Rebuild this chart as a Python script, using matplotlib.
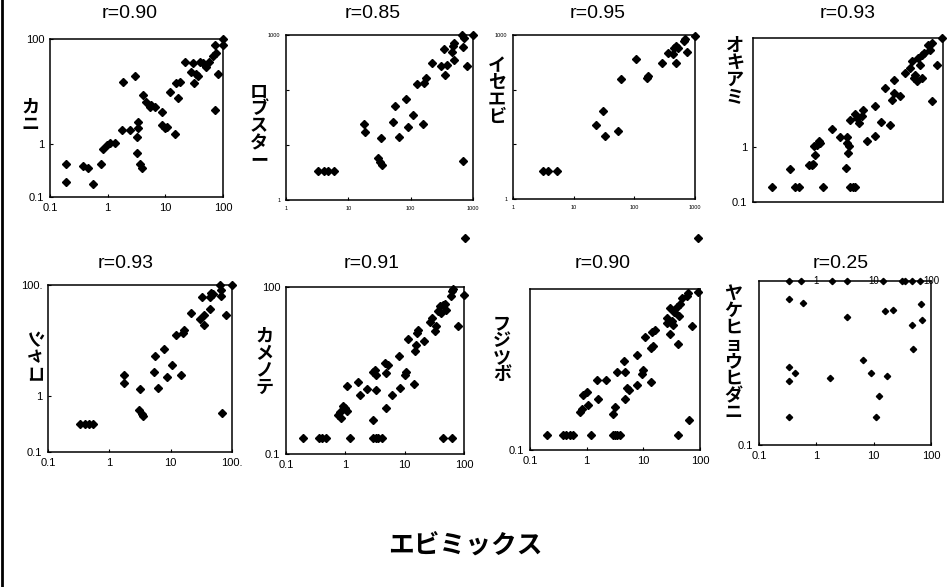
import matplotlib
matplotlib.use("Agg")
import matplotlib.pyplot as plt
from matplotlib.lines import Line2D

plt.rcParams['font.family'] = ['Liberation Sans', 'Noto Sans CJK JP', 'DejaVu Sans']

# カニ
kani_x = [0.19, 0.19, 0.38, 0.46, 0.56, 0.78, 0.84, 0.96, 1.1, 1.33, 1.74, 1.86, 2.4, 2.95, 3.2, 3.4,
          3.4, 3.2, 3.6, 3.9, 4.1, 4.7, 5.4, 5.7, 6.6, 8.6, 8.6, 9.8, 10.5, 12, 14.5, 15.5,
          16.5, 17.8, 21.7, 28, 30, 32, 34.5, 37, 40, 45, 51, 58, 67, 72, 72, 82, 77, 100, 100]
kani_y = [0.43, 0.19, 0.38, 0.35, 0.18, 0.43, 0.83, 0.97, 1.04, 1.04, 1.86, 15.5, 1.86, 19.5, 0.67, 2.0,
          2.7, 1.4, 0.43, 0.35, 8.7, 6.5, 5.2, 5.6, 5.2, 4.2, 2.3, 2.0, 2.15, 10, 1.6, 14.5,
          7.5, 15.5, 36, 24, 35, 14.5, 22, 19.5, 36, 35, 30, 37, 47, 77, 4.5, 22, 54, 100, 77]

# ロブスター
lob_x = [3.3, 4.0, 4.8, 5.8, 18, 18.6, 30, 32, 34.5, 33, 53, 56, 64, 85, 89, 108, 157,
         126, 166, 176, 219, 309, 337, 359, 380, 460, 475, 490, 500, 665, 690, 705, 690, 815, 1000]
lob_y = [3.3, 3.3, 3.3, 3.3, 24.5, 17, 5.8, 5.0, 4.3, 13.2, 26.5, 52, 14.2, 70, 21.5, 35, 24.5,
         126, 132, 162, 315, 273, 555, 187, 285, 500, 640, 350, 705, 1000, 615, 870, 5.2, 273, 1000]
lob_out_x = [750]
lob_out_y = [0.2]

# イセエビ
ise_x = [3.16, 3.73, 5.4, 23.6, 30.8, 33.3, 54.8, 60.8, 107, 160, 168, 282,
         359, 436, 452, 478, 527, 490, 663, 680, 727, 1000]
ise_y = [3.3, 3.3, 3.3, 23, 40.7, 14.4, 17.8, 155, 359, 166, 178, 303,
         463, 443, 570, 638, 586, 303, 776, 845, 482, 972]
ise_out_x = [1100]
ise_out_y = [0.19]

# オキアミ
oki_x = [0.20, 0.46, 0.54, 1.29, 3.4, 3.75, 4.1, 0.39, 0.77, 0.84, 0.89, 0.95, 0.91, 1.03, 1.14, 1.11,
         1.74, 2.36, 2.95, 3.1, 3.1, 3.2, 3.3, 3.4, 4.1, 4.35, 4.8, 5.2, 5.5, 6.25, 8.5, 8.5,
         10.5, 14.7, 12.2, 15.6, 16.6, 17, 20.6, 25.3, 30.3, 32.2, 36.5, 38.7, 41, 34.4, 43.7,
         46.5, 49.5, 46.5, 59, 63, 67, 67, 80, 97]
oki_y = [0.19, 0.19, 0.19, 0.19, 0.19, 0.19, 0.19, 0.41, 0.47, 0.48, 0.50, 0.73, 1.04, 1.12, 1.2, 1.29,
         2.16, 1.55, 0.42, 1.52, 1.2, 0.79, 1.04, 3.2, 4.07, 3.44, 2.79, 3.69, 4.89, 1.29, 1.58, 5.6,
         2.86, 2.6, 12.2, 7.45, 17.4, 9.86, 8.57, 23, 28.3, 37.5, 21.3, 16.1, 43, 18.5, 32.3,
         49.5, 53, 18.5, 75.5, 61, 81, 6.9, 32.3, 100]

# シャコ
shako_x = [0.33, 0.4, 0.47, 0.55, 1.73, 1.73, 3.16, 3.1, 3.37, 3.5, 5.4, 5.6, 6.3, 7.8, 8.65, 10.4, 14.6,
           12.3, 15.8, 16.8, 21.4, 29.6, 32.7, 34.4, 35.3, 43, 44.3, 45.4, 49, 63, 66.5, 65, 81, 68.7, 100]
shako_y = [0.32, 0.32, 0.32, 0.32, 2.4, 1.75, 1.38, 0.56, 0.49, 0.44, 2.7, 5.2, 1.42, 7.1, 2.2, 3.6, 2.46,
           12.9, 13.8, 15.8, 32, 25, 60, 19.3, 28.4, 36.5, 61.7, 70.8, 68, 100, 63, 83, 28.8, 0.51, 100]

# カメノテ
kame_x = [0.19, 0.36, 0.41, 0.47, 1.19, 2.95, 3.27, 3.57, 4.07, 44.4, 63,
          0.76, 0.81, 0.83, 0.90, 0.98, 1.07, 1.05, 1.65, 1.76, 2.28, 3.35,
          2.95, 4.94, 6.0, 8.5, 14.2, 2.87, 3.14, 3.35, 4.63, 4.94, 5.25, 8.07, 10, 10.7,
          11.4, 14.8, 15.8, 16.2, 16.9, 21, 26.5, 29.4, 32.2, 34.3, 36.6, 39, 41.7, 44.4,
          47.3, 49.2, 61, 63, 65, 79, 100]
kame_y = [0.19, 0.19, 0.19, 0.19, 0.19, 0.19, 0.19, 0.19, 0.19, 0.19, 0.19,
          0.5, 0.57, 0.44, 0.73, 0.66, 0.60, 1.67, 2.0, 1.15, 1.46, 1.42,
          0.41, 0.66, 1.15, 1.52, 1.8, 3.03, 3.25, 2.64, 4.3, 2.83, 4.0, 5.65, 2.64, 3.03,
          11.6, 6.95, 9.2, 14.9, 17.1, 10.5, 24, 27.7, 15.9, 19.6, 36.5, 44.9, 34, 48,
          50, 39, 68, 83.6, 92, 20.1, 72.8]

# フジツボ
fuji_x = [0.20, 0.38, 0.44, 0.51, 0.57, 1.18, 2.88, 3.17, 3.47, 3.87, 41.5, 64.6,
          0.76, 0.82, 0.87, 1.0, 1.07, 1.6, 1.54, 2.19,
          2.88, 3.17, 4.75, 5.2, 5.66, 7.83, 9.34, 9.73, 13.7,
          3.38, 4.57, 4.75, 7.6, 13.5, 14.6, 10.7, 14, 16.1,
          26.5, 31.5, 33, 29.4, 41.5, 25.8, 29.4, 34.8, 38.7, 43.2, 44.4, 47.5, 58, 62, 71, 93]
fuji_y = [0.19, 0.19, 0.19, 0.19, 0.19, 0.19, 0.19, 0.19, 0.19, 0.19, 0.19, 0.36,
          0.51, 0.59, 1.04, 1.2, 0.68, 0.9, 2.0, 2.0,
          0.46, 0.63, 0.89, 1.45, 1.33, 1.66, 2.66, 3.16, 1.83,
          2.86, 4.57, 2.86, 5.96, 7.8, 8.7, 12.6, 16, 17.3,
          23.7, 25.8, 21.4, 14.5, 9.4, 28.6, 44, 38, 45.7, 31.6, 53, 67.8, 72.9, 84, 20.8, 86.6]

# ヤケヒョウヒダニ
dani_x = [0.34, 0.59, 3.36, 15.7, 21.9, 66, 45.8, 70, 47.8,
          6.4, 8.9, 17.2, 0.42, 0.34, 0.34, 1.76, 12.5, 0.34, 10.9,
          0.34, 0.55, 1.84, 3.36, 14.7, 30.7, 35, 47, 64]
dani_y = [46, 40, 22.3, 28.7, 29.5, 37.4, 15.7, 19, 5.6,
          3.6, 2.04, 1.83, 2.04, 2.71, 1.5, 1.66, 0.79, 0.33, 0.32,
          100, 100, 100, 100, 100, 100, 100, 100, 100]

r_values = ["r=0.90", "r=0.85", "r=0.95", "r=0.93", "r=0.93", "r=0.91", "r=0.90", "r=0.25"]
names = ["カニ", "ロブスター", "イセエビ", "オキアミ", "シャコ", "カメノテ", "フジツボ", "ヤケヒョウヒダニ"]

W, H = 948, 587
fig = plt.figure(figsize=(W / 100, H / 100), dpi=100)


def box(l, t, r, b):
    return [l / W, 1 - b / H, (r - l) / W, (b - t) / H]


def make_ax(rect, lim, xt, xl, yt, yl, fs=8):
    ax = fig.add_axes(box(*rect))
    ax.set_xscale('log')
    ax.set_yscale('log')
    ax.set_xlim(*lim)
    ax.set_ylim(*lim)
    ax.minorticks_off()
    ax.set_xticks(xt)
    ax.set_xticklabels(xl, fontsize=fs)
    ax.set_yticks(yt)
    ax.set_yticklabels(yl, fontsize=fs)
    ax.tick_params(direction='in', length=2, width=0.8, pad=4)
    for s in ax.spines.values():
        s.set_linewidth(1.1)
    return ax


dec = [0.1, 1, 10, 100]
dec3 = [1, 10, 100, 1000]
lab = ['0.1', '1', '10', '100']
tiny = ['1', '10', '100', '1000']

ax1 = make_ax((50, 39, 223, 197), (0.1, 100), dec, lab, [0.1, 1, 100], ['0.1', '1', '100'])
ax1.plot(kani_x, kani_y, 'kD', ms=4.5, clip_on=False)

ax2 = make_ax((286, 35, 473, 200), (1, 1000), dec3, tiny, dec3, ['1', '', '', '1000'], fs=4)
ax2.plot(lob_x, lob_y, 'kD', ms=4.5, clip_on=False)
ax2.plot(lob_out_x, lob_out_y, 'kD', ms=4.5, clip_on=False)

ax3 = make_ax((513, 35, 695, 199), (1, 1000), dec3, tiny, dec3, ['1', '', '', '1000'], fs=4)
ax3.plot(ise_x, ise_y, 'kD', ms=4.5, clip_on=False)
ax3.plot(ise_out_x, ise_out_y, 'kD', ms=4.5, clip_on=False)

ax4 = make_ax((753, 38, 943, 202), (0.1, 100), [], [], [0.1, 1], ['0.1', '1'])
ax4.plot(oki_x, oki_y, 'kD', ms=4.5, clip_on=False)

ax5 = make_ax((48, 285, 232, 452), (0.1, 100), dec, ['0.1', '1', '10', '100.'],
              [0.1, 1, 100], ['0.1', '1', '100.'])
ax5.plot(shako_x, shako_y, 'kD', ms=4.5, clip_on=False)

ax6 = make_ax((286, 287, 464, 454), (0.1, 100), dec, lab, [0.1, 100], ['0.1', '100'])
ax6.plot(kame_x, kame_y, 'kD', ms=4.5, clip_on=False)

ax7 = make_ax((530, 289, 700, 450), (0.1, 100), dec, lab, [0.1], ['0.1'])
ax7.plot(fuji_x, fuji_y, 'kD', ms=4.5, clip_on=False)

ax8 = make_ax((759, 281, 931, 445), (0.1, 100), dec, lab, [0.1], ['0.1'])
ax8.plot(dani_x, dani_y, 'kD', ms=3.2, clip_on=False)
for xv, t in zip([1, 10, 100], ['1', '10', '100']):
    ax8.text(xv, 100, t, fontsize=7, ha='center', va='center')

# titles
title_pos = [(130, 13), (373, 13), (598, 13), (848, 13), (126, 263), (372, 263), (603, 263), (841, 263)]
for (tx, ty), t in zip(title_pos, r_values):
    fig.text(tx / W, 1 - ty / H, t, fontsize=14, ha='center', va='center')

# vertical species labels
label_pos = [(30, 117), (259, 127), (497, 92), (735, 72), (32, 357), (264, 363), (502, 350), (733, 354)]
for i, ((lx, ly), n) in enumerate(zip(label_pos, names)):
    if i == 4:
        # シャコ is printed sideways in the original
        fig.text(lx / W, 1 - ly / H, n, fontsize=13, ha='center', va='center',
                 rotation=270, fontweight='bold')
    else:
        fig.text(lx / W, 1 - ly / H, "\n".join(n), fontsize=13, ha='center', va='center',
                 linespacing=1.0, fontweight='bold')

fig.text(465 / W, 1 - 546 / H, "エビミックス", fontsize=18.5, ha='center', va='center',
         fontweight='bold')

fig.add_artist(Line2D([1.5 / W, 1.5 / W], [0, 1], color='black', lw=2))

fig.savefig("out.png", dpi=100)
